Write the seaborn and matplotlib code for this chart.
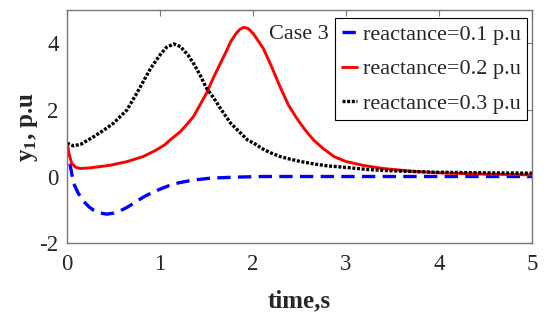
import matplotlib
matplotlib.use("Agg")
import matplotlib.pyplot as plt
import seaborn as sns
import pandas as pd

sns.set_style("white")
plt.rcParams['font.family'] = ['Liberation Serif', 'DejaVu Serif']
plt.rcParams['axes.unicode_minus'] = False
plt.rcParams['mathtext.fontset'] = 'custom'
plt.rcParams['mathtext.rm'] = 'Liberation Serif'
plt.rcParams['mathtext.bf'] = 'Liberation Serif:bold'
plt.rcParams['mathtext.it'] = 'Liberation Serif:italic'

# data
t_blue = [0, 0.03, 0.07, 0.12, 0.18, 0.24, 0.29, 0.36, 0.43, 0.5, 0.58, 0.65, 0.73,
          0.82, 0.9, 1.0, 1.1, 1.2, 1.35, 1.54, 1.8, 2.1, 2.5, 3.0, 4.0, 5.0]
y_blue = [1.0, 0.4, -0.2, -0.5, -0.75, -0.92, -1.02, -1.1, -1.13, -1.1, -1.02, -0.92, -0.78,
          -0.62, -0.5, -0.38, -0.27, -0.19, -0.11, -0.05, -0.02, 0.0, 0.0, 0.0, 0.0, 0.0]

t_red = [0, 0.02, 0.05, 0.09, 0.14, 0.25, 0.47, 0.65, 0.82, 0.95, 1.05, 1.11, 1.22, 1.3,
         1.36, 1.4, 1.5, 1.58, 1.65, 1.72, 1.76, 1.82, 1.86, 1.9, 1.95, 2.0, 2.05, 2.11,
         2.2, 2.29, 2.38, 2.47, 2.56, 2.65, 2.75, 2.87, 3.0, 3.19, 3.4, 3.7, 4.0, 4.5, 5.0]
y_red = [1.0, 0.7, 0.4, 0.28, 0.24, 0.26, 0.34, 0.45, 0.6, 0.78, 0.95, 1.1, 1.35, 1.6,
         1.8, 2.0, 2.5, 3.0, 3.4, 3.8, 4.05, 4.3, 4.42, 4.48, 4.44, 4.3, 4.1, 3.85,
         3.3, 2.7, 2.15, 1.75, 1.4, 1.1, 0.85, 0.6, 0.45, 0.33, 0.24, 0.16, 0.11, 0.07, 0.05]

t_black = [0, 0.07, 0.15, 0.29, 0.4, 0.5, 0.645, 0.75, 0.82, 0.9, 1.0, 1.07, 1.15, 1.22,
           1.3, 1.36, 1.43, 1.5, 1.58, 1.66, 1.76, 1.85, 1.94, 2.02, 2.11, 2.2, 2.29,
           2.4, 2.51, 2.65, 2.8, 3.01, 3.23, 3.5, 3.94, 4.5, 5.0]
y_black = [1.0, 0.92, 0.97, 1.2, 1.4, 1.6, 2.0, 2.5, 2.85, 3.25, 3.65, 3.88, 3.98, 3.9,
           3.65, 3.4, 3.05, 2.65, 2.35, 2.0, 1.6, 1.35, 1.1, 0.98, 0.82, 0.7, 0.6,
           0.52, 0.45, 0.38, 0.32, 0.27, 0.21, 0.17, 0.13, 0.11, 0.1]

labels = ['reactance=0.1 p.u', 'reactance=0.2 p.u', 'reactance=0.3 p.u']
case_label = 'Case 3'
x_ticks = [0, 1, 2, 3, 4, 5]
y_ticks = [-2, 0, 2, 4]

fig = plt.figure(figsize=(5.47, 3.22), dpi=100)
ax = fig.add_axes([0.1225, 0.245, 0.85, 0.724])

series = [(t_blue, y_blue, 'blue', dict(lw=2.4, dashes=(4, 2.2))),
          (t_red, y_red, 'red', dict(lw=2.1)),
          (t_black, y_black, 'black', dict(lw=2.4, dashes=(0.9, 0.5)))]
for (t, y, c, kw), lab in zip(series, labels):
    df = pd.DataFrame({'t': t, 'y': y})
    sns.lineplot(data=df, x='t', y='y', color=c, label=lab, ax=ax, **kw)

ax.set_xlim(0, 5)
ax.set_ylim(-2, 5)
ax.set_xticks(x_ticks)
ax.set_yticks(y_ticks)
ax.tick_params(direction='in', length=4, color='#777777', top=True, right=True,
               labelsize=16.5)
ax.tick_params(axis='x', pad=8)
ax.tick_params(axis='y', pad=6)
for s in ax.spines.values():
    s.set_color('#777777')
    s.set_linewidth(1.0)

ax.set_xlabel('time,s', fontsize=18, fontweight='bold', labelpad=10)
ax.set_ylabel(r'$\mathbf{y}_{\mathbf{1}}$, p.u', fontsize=18, fontweight='bold', labelpad=0)

leg = ax.legend(loc='upper right', bbox_to_anchor=(0.99, 0.966), borderaxespad=0,
                fontsize=16, handlelength=0.7, handletextpad=0.25, labelspacing=0.62,
                borderpad=0.3, fancybox=False, framealpha=1, edgecolor='black')
leg.get_frame().set_linewidth(0.8)

fig.canvas.draw()
lb = leg.get_window_extent()
x_case, _ = ax.transAxes.inverted().transform((lb.x0 - 6, 0))
ax.text(x_case, 0.893, case_label, transform=ax.transAxes, ha='right', va='center',
        fontsize=16)

fig.savefig('out.png', dpi=100)
